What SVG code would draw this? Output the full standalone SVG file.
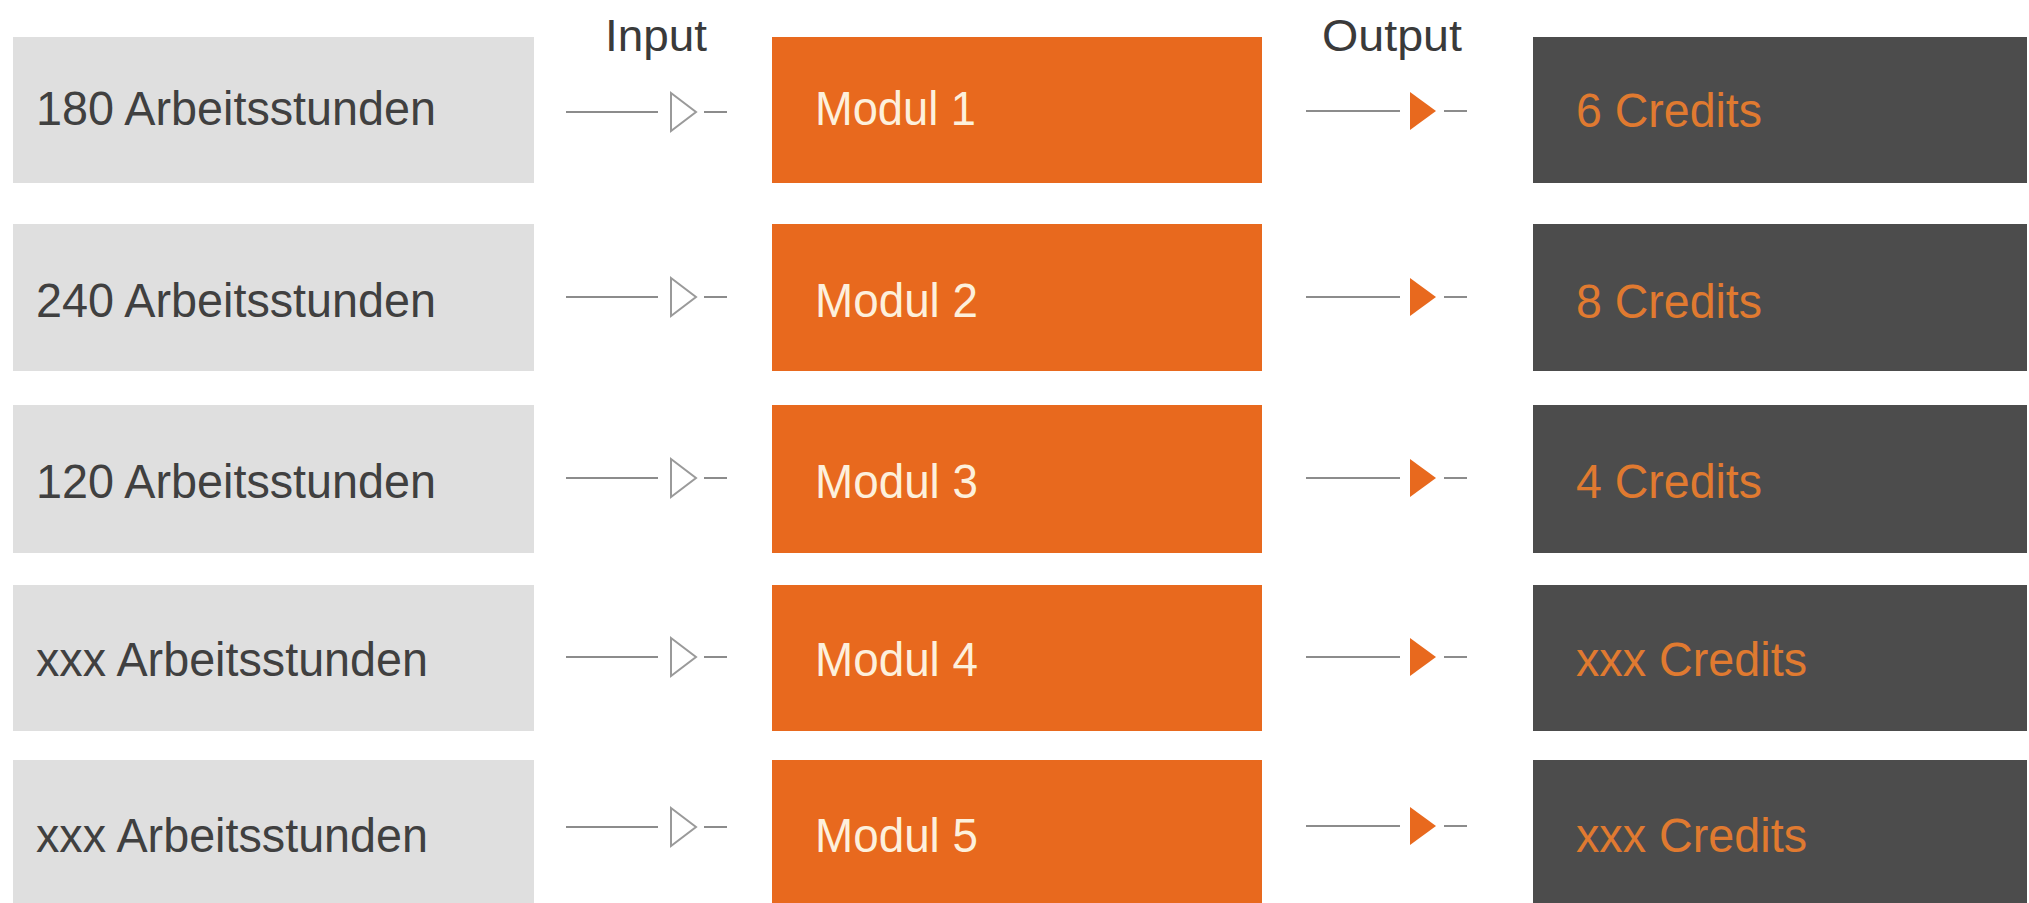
<svg xmlns="http://www.w3.org/2000/svg" xmlns:xlink="http://www.w3.org/1999/xlink" width="2029" height="903" viewBox="0 0 2029 903">
<style>
.in{fill:#dfdfdf}
.mod{fill:#e8691e}
.out{fill:#4c4c4c}
.t{font-family:"Liberation Sans",Arial,sans-serif;font-size:48px}
.h{font-family:"Liberation Sans",Arial,sans-serif;font-size:45px;fill:#3a3a3a}
.tin{fill:#404040}
.tmod{fill:#fdf0dc}
.tout{fill:#e07a30}
.ln{stroke:#8c8c8c;stroke-width:2;fill:none}
</style>
<defs>
<g id="arrIn">
<line class="ln" x1="0" y1="0" x2="92" y2="0"/>
<polygon points="105,-19 130,0 105,19" fill="#fff" stroke="#9a9a9a" stroke-width="2"/>
<line class="ln" x1="138" y1="0" x2="161" y2="0"/>
</g>
<g id="arrOut">
<line class="ln" x1="0" y1="0" x2="94" y2="0"/>
<polygon points="104,-19 130,0 104,19" fill="#e8691e"/>
<line class="ln" x1="138" y1="0" x2="161" y2="0"/>
</g>
</defs>
<rect width="2029" height="903" fill="#ffffff"/>
<text class="h" x="605" y="51" textLength="102" lengthAdjust="spacingAndGlyphs">Input</text>
<text class="h" x="1322" y="51" textLength="140" lengthAdjust="spacingAndGlyphs">Output</text>

<g id="in1"><rect class="in" x="13" y="37" width="521" height="146"/><text class="t tin" x="36" y="125" textLength="400" lengthAdjust="spacingAndGlyphs">180 Arbeitsstunden</text></g>
<g id="in2"><rect class="in" x="13" y="224" width="521" height="147"/><text class="t tin" x="36" y="317" textLength="400" lengthAdjust="spacingAndGlyphs">240 Arbeitsstunden</text></g>
<g id="in3"><rect class="in" x="13" y="405" width="521" height="148"/><text class="t tin" x="36" y="498" textLength="400" lengthAdjust="spacingAndGlyphs">120 Arbeitsstunden</text></g>
<g id="in4"><rect class="in" x="13" y="585" width="521" height="146"/><text class="t tin" x="36" y="676" textLength="392" lengthAdjust="spacingAndGlyphs">xxx Arbeitsstunden</text></g>
<g id="in5"><rect class="in" x="13" y="760" width="521" height="150"/><text class="t tin" x="36" y="852" textLength="392" lengthAdjust="spacingAndGlyphs">xxx Arbeitsstunden</text></g>

<g id="mod1"><rect class="mod" x="772" y="37" width="490" height="146"/><text class="t tmod" x="815" y="125" textLength="161" lengthAdjust="spacingAndGlyphs">Modul 1</text></g>
<g id="mod2"><rect class="mod" x="772" y="224" width="490" height="147"/><text class="t tmod" x="815" y="317" textLength="163" lengthAdjust="spacingAndGlyphs">Modul 2</text></g>
<g id="mod3"><rect class="mod" x="772" y="405" width="490" height="148"/><text class="t tmod" x="815" y="498" textLength="163" lengthAdjust="spacingAndGlyphs">Modul 3</text></g>
<g id="mod4"><rect class="mod" x="772" y="585" width="490" height="146"/><text class="t tmod" x="815" y="676" textLength="163" lengthAdjust="spacingAndGlyphs">Modul 4</text></g>
<g id="mod5"><rect class="mod" x="772" y="760" width="490" height="150"/><text class="t tmod" x="815" y="852" textLength="163" lengthAdjust="spacingAndGlyphs">Modul 5</text></g>

<g id="out1"><rect class="out" x="1533" y="37" width="494" height="146"/><text class="t tout" x="1576" y="127" textLength="186" lengthAdjust="spacingAndGlyphs">6 Credits</text></g>
<g id="out2"><rect class="out" x="1533" y="224" width="494" height="147"/><text class="t tout" x="1576" y="318" textLength="186" lengthAdjust="spacingAndGlyphs">8 Credits</text></g>
<g id="out3"><rect class="out" x="1533" y="405" width="494" height="148"/><text class="t tout" x="1576" y="498" textLength="186" lengthAdjust="spacingAndGlyphs">4 Credits</text></g>
<g id="out4"><rect class="out" x="1533" y="585" width="494" height="146"/><text class="t tout" x="1576" y="676" textLength="231" lengthAdjust="spacingAndGlyphs">xxx Credits</text></g>
<g id="out5"><rect class="out" x="1533" y="760" width="494" height="150"/><text class="t tout" x="1576" y="852" textLength="231" lengthAdjust="spacingAndGlyphs">xxx Credits</text></g>

<g id="connectors">
<use xlink:href="#arrIn" x="566" y="112"/>
<use xlink:href="#arrIn" x="566" y="297"/>
<use xlink:href="#arrIn" x="566" y="478"/>
<use xlink:href="#arrIn" x="566" y="657"/>
<use xlink:href="#arrIn" x="566" y="827"/>
<use xlink:href="#arrOut" x="1306" y="111"/>
<use xlink:href="#arrOut" x="1306" y="297"/>
<use xlink:href="#arrOut" x="1306" y="478"/>
<use xlink:href="#arrOut" x="1306" y="657"/>
<use xlink:href="#arrOut" x="1306" y="826"/>
</g>
</svg>
